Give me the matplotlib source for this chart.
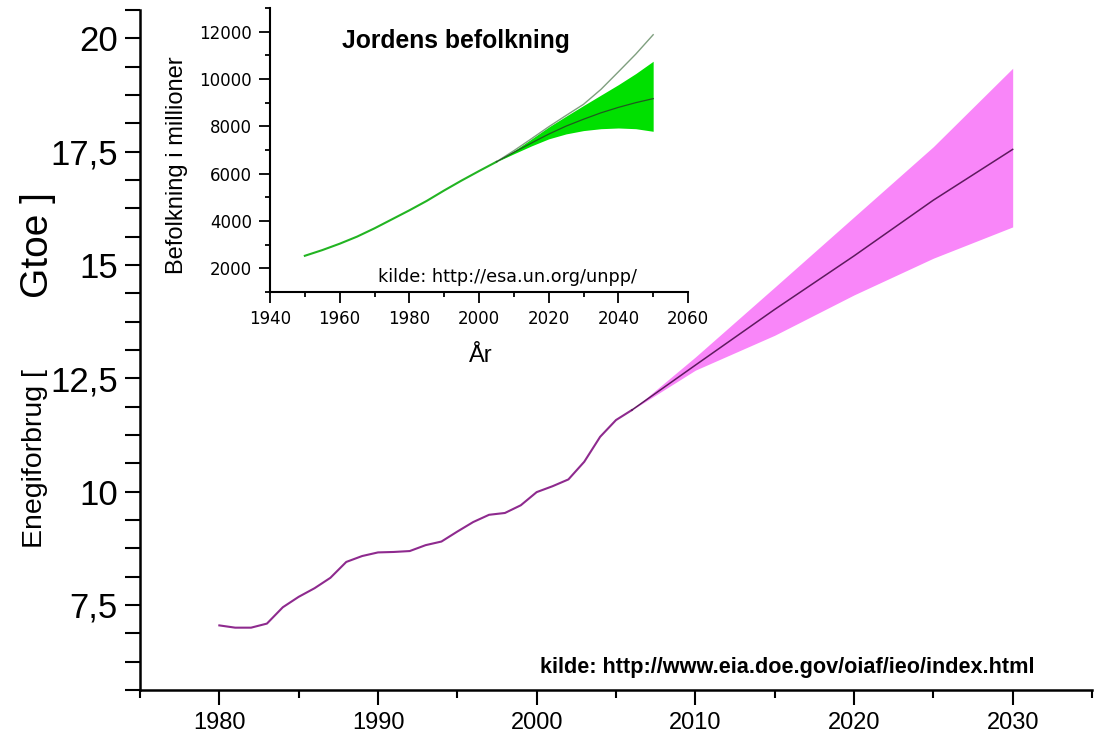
import numpy as np
import matplotlib.pyplot as plt
from matplotlib.ticker import MultipleLocator, FuncFormatter

plt.rcParams['font.family'] = ['Liberation Sans', 'DejaVu Sans']

# world energy consumption, Gtoe (EIA IEO)
years_hist = list(range(1980, 2007))
energy_hist = [7.05, 7.00, 7.00, 7.09, 7.45, 7.68, 7.87, 8.10, 8.45, 8.58,
               8.66, 8.67, 8.69, 8.82, 8.90, 9.12, 9.33, 9.49, 9.53, 9.70,
               9.99, 10.12, 10.27, 10.66, 11.21, 11.58, 11.80]
years_proj = [2006, 2010, 2015, 2020, 2025, 2030]
energy_ref = [11.80, 12.79, 14.02, 15.20, 16.43, 17.55]
energy_low = [11.80, 12.68, 13.45, 14.34, 15.15, 15.84]
energy_high = [11.80, 12.97, 14.51, 16.06, 17.61, 19.34]

# world population, millions (UN)
pop_years = list(range(1950, 2051, 5))
pop_medium = [2530, 2770, 3040, 3340, 3690, 4070, 4450, 4850, 5290, 5710,
              6110, 6500, 6900, 7290, 7670, 8010, 8300, 8570, 8800, 9000, 9170]
band_years = list(range(2005, 2051, 5))
pop_low = [6500, 6840, 7170, 7470, 7680, 7820, 7900, 7930, 7900, 7790]
pop_high = [6500, 6960, 7460, 7970, 8430, 8880, 9320, 9760, 10230, 10750]
pop_const = [6500, 6970, 7470, 7980, 8460, 8930, 9560, 10300, 11050, 11870]

W, H = 1099, 739
fig = plt.figure(figsize=(W / 100, H / 100), dpi=100)

# main chart
ax = fig.add_axes([140 / W, 1 - 690 / H, (1092 - 140) / W, (690 - 10) / H])
ax.fill_between(years_proj, energy_low, energy_high, color='#f986f9', lw=0)
ax.plot(years_hist, energy_hist, color='#8e2a8e', lw=1.5)
ax.plot(years_proj, energy_ref, color='#5e1a5e', lw=1.1)
ax.set_xlim(1975, 2035)
ax.set_ylim(5.625, 20.625)
ax.xaxis.set_major_locator(MultipleLocator(10))
ax.xaxis.set_minor_locator(MultipleLocator(5))
ax.yaxis.set_major_locator(MultipleLocator(2.5))
ax.yaxis.set_minor_locator(MultipleLocator(0.625))
ax.yaxis.set_major_formatter(FuncFormatter(lambda v, p: ('%g' % v).replace('.', ',')))
ax.tick_params(axis='y', which='both', direction='out', length=11, width=1.5,
               labelsize=25, pad=5)
ax.tick_params(axis='x', which='major', direction='out', length=11, width=1.5,
               labelsize=17, pad=5)
ax.tick_params(axis='x', which='minor', direction='out', length=6, width=1.5)
for s in ['top', 'right']:
    ax.spines[s].set_visible(False)
for s in ['left', 'bottom']:
    ax.spines[s].set_linewidth(1.8)

fig.text(42 / W, 1 - 548 / H, 'Enegiforbrug [', fontsize=20.5,
         rotation=90, rotation_mode='anchor', ha='left', va='baseline')
fig.text(48 / W, 1 - 298 / H, 'Gtoe ]', fontsize=28,
         rotation=90, rotation_mode='anchor', ha='left', va='baseline')
fig.text(1035 / W, 1 - 673 / H, 'kilde: http://www.eia.doe.gov/oiaf/ieo/index.html',
         fontsize=15.6, fontweight='bold', ha='right', va='baseline')

# inset: population
axi = fig.add_axes([270 / W, 1 - 292 / H, (688 - 270) / W, (292 - 8) / H])
axi.fill_between(band_years, pop_low, pop_high, color='#00e000', lw=0)
axi.plot(band_years, pop_const, color='#7f9f7f', lw=1)
pm = np.array(pop_medium)
py = np.array(pop_years)
axi.plot(py[py <= 2005], pm[py <= 2005], color='#22b422', lw=1.5)
axi.plot(py[py >= 2005], pm[py >= 2005], color='#1f5a1f', lw=0.9)
axi.set_xlim(1940, 2060)
axi.set_ylim(1000, 13000)
axi.xaxis.set_major_locator(MultipleLocator(20))
axi.xaxis.set_minor_locator(MultipleLocator(10))
axi.yaxis.set_major_locator(MultipleLocator(2000))
axi.yaxis.set_minor_locator(MultipleLocator(1000))
axi.tick_params(which='major', direction='out', length=8, width=1.3,
                labelsize=12, labelfontfamily='DejaVu Sans', pad=5)
axi.tick_params(which='minor', direction='out', length=3.6, width=1.3)
for s in ['top', 'right']:
    axi.spines[s].set_visible(False)
for s in ['left', 'bottom']:
    axi.spines[s].set_linewidth(1.5)

fig.text(342 / W, 1 - 48 / H, 'Jordens befolkning', fontsize=17.8,
         fontweight='bold', va='baseline')
fig.text(378 / W, 1 - 282 / H, 'kilde: http://esa.un.org/unpp/', fontsize=12.7,
         family='DejaVu Sans', va='baseline')
fig.text(481 / W, 1 - 362 / H, 'År', fontsize=17, ha='center', va='baseline')
fig.text(183 / W, 1 - 165 / H, 'Befolkning i millioner', fontsize=17,
         rotation=90, rotation_mode='anchor', ha='center', va='baseline')

fig.savefig('out.png', dpi=100)
